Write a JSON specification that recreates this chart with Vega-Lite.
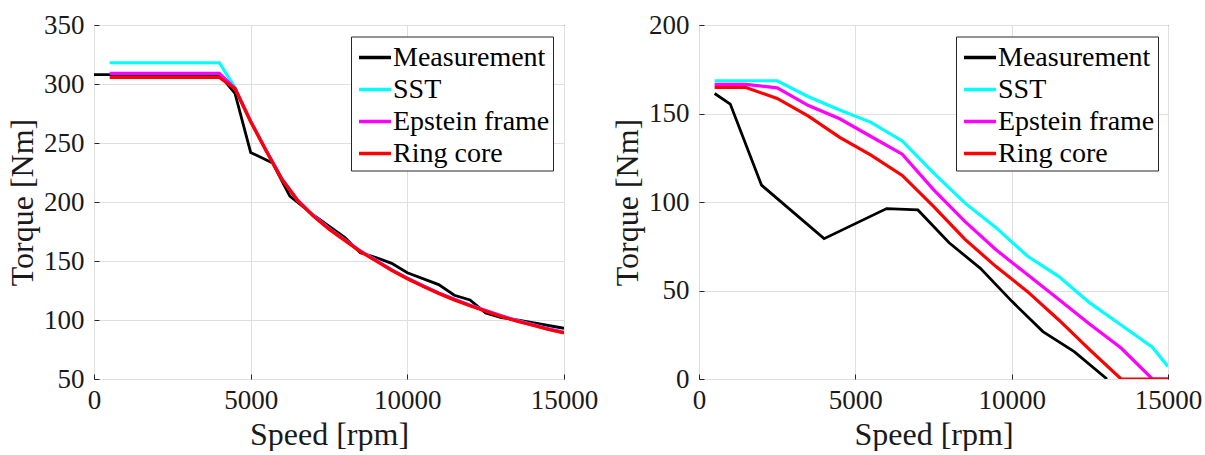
{
  "$schema": "https://vega.github.io/schema/vega-lite/v6.json",
  "background": "white",
  "padding": {"left": 6, "top": 10, "right": 2, "bottom": 0},
  "datasets": {
    "left": [
      {"series": "Measurement", "speed": 0, "torque": 308},
      {"series": "Measurement", "speed": 4000, "torque": 308},
      {"series": "Measurement", "speed": 4500, "torque": 292},
      {"series": "Measurement", "speed": 5000, "torque": 242},
      {"series": "Measurement", "speed": 5700, "torque": 233},
      {"series": "Measurement", "speed": 6250, "torque": 205},
      {"series": "Measurement", "speed": 7000, "torque": 189},
      {"series": "Measurement", "speed": 7500, "torque": 179.5},
      {"series": "Measurement", "speed": 8000, "torque": 170},
      {"series": "Measurement", "speed": 8500, "torque": 157},
      {"series": "Measurement", "speed": 9000, "torque": 153},
      {"series": "Measurement", "speed": 9500, "torque": 148},
      {"series": "Measurement", "speed": 10000, "torque": 140},
      {"series": "Measurement", "speed": 11000, "torque": 130},
      {"series": "Measurement", "speed": 11500, "torque": 121},
      {"series": "Measurement", "speed": 12000, "torque": 117},
      {"series": "Measurement", "speed": 12500, "torque": 106},
      {"series": "Measurement", "speed": 13000, "torque": 102},
      {"series": "Measurement", "speed": 13500, "torque": 100},
      {"series": "Measurement", "speed": 15000, "torque": 93},

      {"series": "SST", "speed": 500, "torque": 318},
      {"series": "SST", "speed": 4000, "torque": 318},
      {"series": "SST", "speed": 4500, "torque": 297},
      {"series": "SST", "speed": 5000, "torque": 268.5},
      {"series": "SST", "speed": 5500, "torque": 243.5},
      {"series": "SST", "speed": 6000, "torque": 219.5},
      {"series": "SST", "speed": 6500, "torque": 201.5},
      {"series": "SST", "speed": 7000, "torque": 188.5},
      {"series": "SST", "speed": 7500, "torque": 177.5},
      {"series": "SST", "speed": 8000, "torque": 168},
      {"series": "SST", "speed": 8500, "torque": 158.5},
      {"series": "SST", "speed": 9000, "torque": 150.5},
      {"series": "SST", "speed": 9500, "torque": 142.5},
      {"series": "SST", "speed": 10000, "torque": 135.5},
      {"series": "SST", "speed": 10500, "torque": 129},
      {"series": "SST", "speed": 11000, "torque": 123},
      {"series": "SST", "speed": 11500, "torque": 117.5},
      {"series": "SST", "speed": 12000, "torque": 112.5},
      {"series": "SST", "speed": 12500, "torque": 108},
      {"series": "SST", "speed": 13000, "torque": 103.5},
      {"series": "SST", "speed": 13500, "torque": 99.5},
      {"series": "SST", "speed": 14000, "torque": 96},
      {"series": "SST", "speed": 14500, "torque": 92.5},
      {"series": "SST", "speed": 15000, "torque": 89.5},

      {"series": "Epstein frame", "speed": 500, "torque": 309},
      {"series": "Epstein frame", "speed": 4000, "torque": 309},
      {"series": "Epstein frame", "speed": 4500, "torque": 296.5},
      {"series": "Epstein frame", "speed": 5000, "torque": 268.5},
      {"series": "Epstein frame", "speed": 5500, "torque": 243.5},
      {"series": "Epstein frame", "speed": 6000, "torque": 219.5},
      {"series": "Epstein frame", "speed": 6500, "torque": 201.5},
      {"series": "Epstein frame", "speed": 7000, "torque": 188.5},
      {"series": "Epstein frame", "speed": 7500, "torque": 177.5},
      {"series": "Epstein frame", "speed": 8000, "torque": 168},
      {"series": "Epstein frame", "speed": 8500, "torque": 158.5},
      {"series": "Epstein frame", "speed": 9000, "torque": 150.5},
      {"series": "Epstein frame", "speed": 9500, "torque": 142.5},
      {"series": "Epstein frame", "speed": 10000, "torque": 135.5},
      {"series": "Epstein frame", "speed": 10500, "torque": 129},
      {"series": "Epstein frame", "speed": 11000, "torque": 123},
      {"series": "Epstein frame", "speed": 11500, "torque": 117.5},
      {"series": "Epstein frame", "speed": 12000, "torque": 112.5},
      {"series": "Epstein frame", "speed": 12500, "torque": 108},
      {"series": "Epstein frame", "speed": 13000, "torque": 103.5},
      {"series": "Epstein frame", "speed": 13500, "torque": 99.5},
      {"series": "Epstein frame", "speed": 14000, "torque": 96},
      {"series": "Epstein frame", "speed": 14500, "torque": 92.5},
      {"series": "Epstein frame", "speed": 15000, "torque": 89.5},

      {"series": "Ring core", "speed": 500, "torque": 305.5},
      {"series": "Ring core", "speed": 4000, "torque": 305.5},
      {"series": "Ring core", "speed": 4500, "torque": 296},
      {"series": "Ring core", "speed": 5000, "torque": 268},
      {"series": "Ring core", "speed": 5500, "torque": 243},
      {"series": "Ring core", "speed": 6000, "torque": 219},
      {"series": "Ring core", "speed": 6500, "torque": 201},
      {"series": "Ring core", "speed": 7000, "torque": 188},
      {"series": "Ring core", "speed": 7500, "torque": 177},
      {"series": "Ring core", "speed": 8000, "torque": 167.5},
      {"series": "Ring core", "speed": 8500, "torque": 158},
      {"series": "Ring core", "speed": 9000, "torque": 150},
      {"series": "Ring core", "speed": 9500, "torque": 142},
      {"series": "Ring core", "speed": 10000, "torque": 135},
      {"series": "Ring core", "speed": 10500, "torque": 128.5},
      {"series": "Ring core", "speed": 11000, "torque": 122.5},
      {"series": "Ring core", "speed": 11500, "torque": 117},
      {"series": "Ring core", "speed": 12000, "torque": 112},
      {"series": "Ring core", "speed": 12500, "torque": 107.5},
      {"series": "Ring core", "speed": 13000, "torque": 103},
      {"series": "Ring core", "speed": 13500, "torque": 99},
      {"series": "Ring core", "speed": 14000, "torque": 95.5},
      {"series": "Ring core", "speed": 14500, "torque": 92},
      {"series": "Ring core", "speed": 15000, "torque": 89}
    ],
    "right": [
      {"series": "Measurement", "speed": 500, "torque": 161.3},
      {"series": "Measurement", "speed": 1000, "torque": 155.3},
      {"series": "Measurement", "speed": 2000, "torque": 109.5},
      {"series": "Measurement", "speed": 4000, "torque": 79.3},
      {"series": "Measurement", "speed": 6000, "torque": 96.3},
      {"series": "Measurement", "speed": 7000, "torque": 95.5},
      {"series": "Measurement", "speed": 8000, "torque": 77},
      {"series": "Measurement", "speed": 9000, "torque": 62.5},
      {"series": "Measurement", "speed": 10000, "torque": 44},
      {"series": "Measurement", "speed": 11000, "torque": 26.8},
      {"series": "Measurement", "speed": 12000, "torque": 15.5},
      {"series": "Measurement", "speed": 13050, "torque": 0},

      {"series": "SST", "speed": 500, "torque": 168.5},
      {"series": "SST", "speed": 1500, "torque": 168.5},
      {"series": "SST", "speed": 2500, "torque": 168.5},
      {"series": "SST", "speed": 3500, "torque": 159.5},
      {"series": "SST", "speed": 4500, "torque": 152},
      {"series": "SST", "speed": 5500, "torque": 145},
      {"series": "SST", "speed": 6500, "torque": 134.5},
      {"series": "SST", "speed": 7500, "torque": 116.5},
      {"series": "SST", "speed": 8500, "torque": 99.5},
      {"series": "SST", "speed": 9500, "torque": 85.5},
      {"series": "SST", "speed": 10500, "torque": 69.5},
      {"series": "SST", "speed": 11500, "torque": 58},
      {"series": "SST", "speed": 12500, "torque": 43},
      {"series": "SST", "speed": 13500, "torque": 30.5},
      {"series": "SST", "speed": 14500, "torque": 18},
      {"series": "SST", "speed": 15000, "torque": 7},

      {"series": "Epstein frame", "speed": 500, "torque": 166.5},
      {"series": "Epstein frame", "speed": 1500, "torque": 166.5},
      {"series": "Epstein frame", "speed": 2500, "torque": 164.5},
      {"series": "Epstein frame", "speed": 3500, "torque": 154.5},
      {"series": "Epstein frame", "speed": 4500, "torque": 147},
      {"series": "Epstein frame", "speed": 5500, "torque": 137},
      {"series": "Epstein frame", "speed": 6500, "torque": 127},
      {"series": "Epstein frame", "speed": 7500, "torque": 107},
      {"series": "Epstein frame", "speed": 8500, "torque": 89},
      {"series": "Epstein frame", "speed": 9500, "torque": 73},
      {"series": "Epstein frame", "speed": 10500, "torque": 59},
      {"series": "Epstein frame", "speed": 11500, "torque": 45},
      {"series": "Epstein frame", "speed": 12500, "torque": 31},
      {"series": "Epstein frame", "speed": 13500, "torque": 17.5},
      {"series": "Epstein frame", "speed": 14500, "torque": 0},
      {"series": "Epstein frame", "speed": 15000, "torque": 0},

      {"series": "Ring core", "speed": 500, "torque": 164.7},
      {"series": "Ring core", "speed": 1500, "torque": 164.7},
      {"series": "Ring core", "speed": 2500, "torque": 158.5},
      {"series": "Ring core", "speed": 3500, "torque": 148.5},
      {"series": "Ring core", "speed": 4500, "torque": 136.5},
      {"series": "Ring core", "speed": 5500, "torque": 126.5},
      {"series": "Ring core", "speed": 6500, "torque": 115},
      {"series": "Ring core", "speed": 7500, "torque": 97.5},
      {"series": "Ring core", "speed": 8500, "torque": 79},
      {"series": "Ring core", "speed": 9500, "torque": 63.5},
      {"series": "Ring core", "speed": 10500, "torque": 49.5},
      {"series": "Ring core", "speed": 11500, "torque": 33.5},
      {"series": "Ring core", "speed": 12500, "torque": 16.5},
      {"series": "Ring core", "speed": 13500, "torque": 0},
      {"series": "Ring core", "speed": 14500, "torque": 0},
      {"series": "Ring core", "speed": 15000, "torque": 0}
    ]
  },
  "config": {
    "font": "'Liberation Serif', 'Times New Roman', Times, serif",
    "view": {"stroke": "#262626", "strokeWidth": 1},
    "axis": {
      "labelFont": "'Liberation Serif', 'Times New Roman', Times, serif",
      "titleFont": "'Liberation Serif', 'Times New Roman', Times, serif",
      "labelFontSize": 27,
      "titleFontSize": 32,
      "titleFontWeight": "normal",
      "labelColor": "#1a1a1a",
      "titleColor": "#1a1a1a",
      "gridColor": "#dfdfdf",
      "gridWidth": 1,
      "domain": false,
      "tickColor": "#262626",
      "tickSize": -5,
      "labelPadding": 15,
      "titlePadding": 4
    },
    "axisX": {"labelFlush": false},
    "axisY": {"labelFlush": false},
    "legend": {
      "orient": "none",
      "legendX": 257,
      "legendY": 11.5,
      "title": null,
      "symbolType": "stroke",
      "symbolSize": 1024,
      "symbolStrokeWidth": 3.5,
      "symbolOffset": 3,
      "labelFont": "'Liberation Serif', 'Times New Roman', Times, serif",
      "labelFontSize": 28,
      "labelColor": "black",
      "labelLimit": 0,
      "labelOffset": 0,
      "strokeColor": "#262626",
      "fillColor": "white",
      "padding": 3,
      "rowPadding": 0
    }
  },
  "hconcat": [
    {
      "width": 470,
      "height": 354,
      "data": {"name": "left"},
      "encoding": {
        "x": {"field": "speed", "type": "quantitative", "title": "Speed [rpm]",
              "scale": {"domain": [0, 15000], "nice": false},
              "axis": {"values": [0, 5000, 10000, 15000], "format": "d", "labelPadding": 13, "titlePadding": 6}},
        "y": {"field": "torque", "type": "quantitative", "title": "Torque [Nm]",
              "scale": {"domain": [50, 350], "nice": false},
              "axis": {"values": [50, 100, 150, 200, 250, 300, 350], "format": "d"}},
        "color": {"field": "series", "type": "nominal",
                  "scale": {"domain": ["Measurement", "SST", "Epstein frame", "Ring core"],
                            "range": ["#000000", "#00ffff", "#ff00ff", "#ff0000"]}}
      },
      "layer": [
        {"transform": [{"filter": "datum.series === 'Measurement'"}], "mark": {"type": "line", "strokeWidth": 2.8, "clip": true}},
        {"transform": [{"filter": "datum.series === 'SST'"}], "mark": {"type": "line", "strokeWidth": 3.2, "clip": true}},
        {"transform": [{"filter": "datum.series === 'Epstein frame'"}], "mark": {"type": "line", "strokeWidth": 3.2, "clip": true}},
        {"transform": [{"filter": "datum.series === 'Ring core'"}], "mark": {"type": "line", "strokeWidth": 3.2, "clip": true}}
      ]
    },
    {
      "width": 469,
      "height": 354,
      "data": {"name": "right"},
      "encoding": {
        "x": {"field": "speed", "type": "quantitative", "title": "Speed [rpm]",
              "scale": {"domain": [0, 15000], "nice": false},
              "axis": {"values": [0, 5000, 10000, 15000], "format": "d", "labelPadding": 13, "titlePadding": 6}},
        "y": {"field": "torque", "type": "quantitative", "title": "Torque [Nm]",
              "scale": {"domain": [0, 200], "nice": false},
              "axis": {"values": [0, 50, 100, 150, 200], "format": "d"}},
        "color": {"field": "series", "type": "nominal",
                  "scale": {"domain": ["Measurement", "SST", "Epstein frame", "Ring core"],
                            "range": ["#000000", "#00ffff", "#ff00ff", "#ff0000"]}}
      },
      "layer": [
        {"transform": [{"filter": "datum.series === 'Measurement'"}], "mark": {"type": "line", "strokeWidth": 2.8, "clip": true}},
        {"transform": [{"filter": "datum.series === 'SST'"}], "mark": {"type": "line", "strokeWidth": 3.2, "clip": true}},
        {"transform": [{"filter": "datum.series === 'Epstein frame'"}], "mark": {"type": "line", "strokeWidth": 3.2, "clip": true}},
        {"transform": [{"filter": "datum.series === 'Ring core'"}], "mark": {"type": "line", "strokeWidth": 3.2, "clip": true}}
      ]
    }
  ],
  "spacing": 135,
  "bounds": "flush",
  "resolve": {"scale": {"color": "independent"}, "legend": {"color": "independent"}}
}
